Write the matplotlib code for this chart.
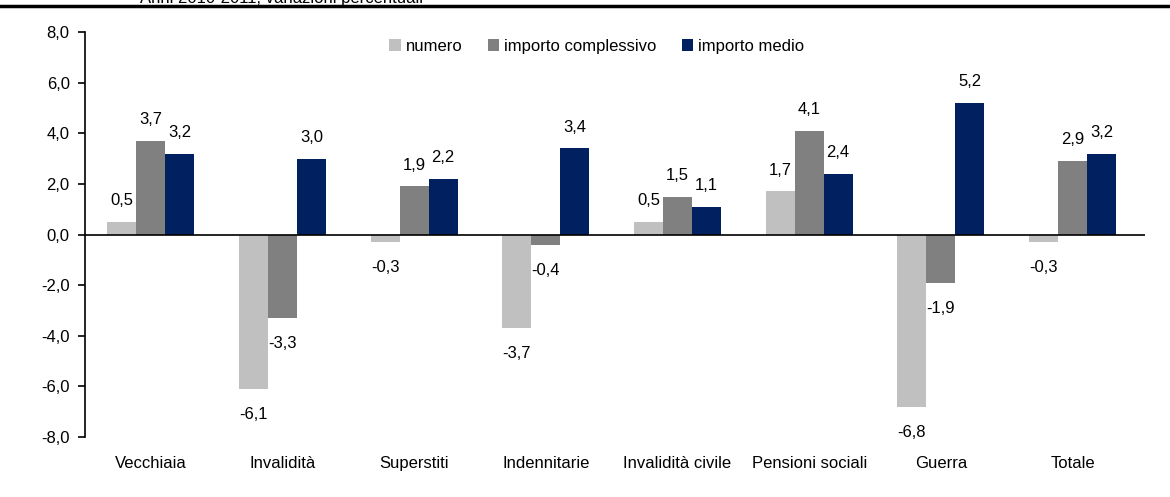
import matplotlib.pyplot as plt
import numpy as np

plt.rcParams['font.family'] = ['Liberation Sans Narrow', 'Liberation Sans', 'DejaVu Sans']

# Data
categorie = ['Vecchiaia', 'Invalidità', 'Superstiti', 'Indennitarie',
             'Invalidità civile', 'Pensioni sociali', 'Guerra', 'Totale']
numero = [0.5, -6.1, -0.3, -3.7, 0.5, 1.7, -6.8, -0.3]
importo_complessivo = [3.7, -3.3, 1.9, -0.4, 1.5, 4.1, -1.9, 2.9]
importo_medio = [3.2, 3.0, 2.2, 3.4, 1.1, 2.4, 5.2, 3.2]
serie_nomi = ['numero', 'importo complessivo', 'importo medio']
colori = ['#C0C0C0', '#808080', '#002060']
y_ticks = [-8, -6, -4, -2, 0, 2, 4, 6, 8]

fig = plt.figure(figsize=(11.7, 4.97), dpi=100)
ax = fig.add_axes([0.0726, 0.1207, 0.906, 0.8149])

x = np.arange(len(categorie))
w = 0.22
serie = [numero, importo_complessivo, importo_medio]
for i, (vals, nome, col) in enumerate(zip(serie, serie_nomi, colori)):
    pos = x + (i - 1) * w
    ax.bar(pos, vals, width=w, color=col, label=nome, zorder=2)
    for px, v in zip(pos, vals):
        lab = f'{v:.1f}'.replace('.', ',')
        if v >= 0:
            ax.annotate(lab, (px, v), xytext=(0, 10), textcoords='offset points',
                        ha='center', va='bottom', fontsize=12)
        else:
            ax.annotate(lab, (px, v), xytext=(0, -13), textcoords='offset points',
                        ha='center', va='top', fontsize=12)

ax.axhline(0, color='black', linewidth=1.2, zorder=3)
ax.set_xlim(-0.5, len(categorie) - 0.45)
ax.set_ylim(-8, 8)
ax.set_yticks(y_ticks)
ax.set_yticklabels([f'{t:.1f}'.replace('.', ',') for t in y_ticks], fontsize=12)
ax.set_xticks(x)
ax.set_xticklabels(categorie, fontsize=12)
ax.tick_params(axis='x', length=0, pad=14)
ax.tick_params(axis='y', direction='out', length=5, width=1.2, pad=6)
for s in ['top', 'right', 'bottom']:
    ax.spines[s].set_visible(False)
ax.spines['left'].set_linewidth(1.2)

ax.legend(loc='upper center', bbox_to_anchor=(0.483, 1.02), ncol=3, frameon=False,
          fontsize=12, handlelength=0.7, handleheight=0.7, handletextpad=0.3,
          columnspacing=1.5)

# header cut off at the top edge
fig.add_artist(plt.Line2D([0, 1], [1 - 6 / 497, 1 - 6 / 497], color='black', linewidth=2.5))
fig.text(0.12, 1 - 3 / 497, 'Anni 2010-2011, variazioni percentuali', fontsize=12,
         va='baseline', ha='left')

fig.savefig('out.png', dpi=100)
